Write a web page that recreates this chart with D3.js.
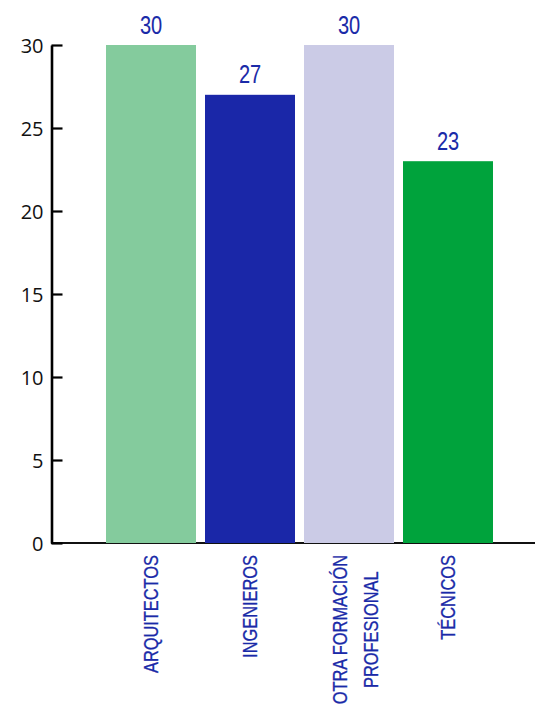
<!DOCTYPE html>
<html><head><meta charset="utf-8">
<script src="https://cdn.jsdelivr.net/npm/d3@7"></script>
<style>html,body{margin:0;padding:0;background:#fff;}</style>
</head><body>
<svg id="c" width="535" height="708"></svg>
<script>
const categories = ["ARQUITECTOS", "INGENIEROS", "OTRA FORMACIÓN\nPROFESIONAL", "TÉCNICOS"];
const values = [30, 27, 30, 23];
const colors = ["#84cb9d", "#1a27a8", "#cbcbe6", "#00a33c"];
const yTicks = [0, 5, 10, 15, 20, 25, 30];

const svg = d3.select("#c");
const x = d3.scaleBand().domain(categories).range([101.5, 497.5]).paddingInner(0.0909).paddingOuter(0.04545);
const y = d3.scaleLinear().domain([0, 30]).range([543, 45]);
const labelColor = "#1a2aa8";
const condFont = "'Liberation Sans', Arial, sans-serif";
const squeeze = 0.8;

// x axis baseline
svg.append("line").attr("x1", 51).attr("x2", 535).attr("y1", y(0)).attr("y2", y(0))
  .attr("stroke", "#111").attr("stroke-width", 2.2);

// y axis
const yAxis = d3.axisLeft(y).tickValues(yTicks).tickSize(-11).tickPadding(20).tickSizeOuter(0);
const gy = svg.append("g").attr("transform", "translate(51.5,0)").call(yAxis);
gy.select(".domain").attr("stroke", "#000").attr("stroke-width", 2.6);
gy.selectAll(".tick line").attr("stroke", "#000").attr("stroke-width", 2.2);
gy.selectAll(".tick text").attr("font-family", "'Open Sans', sans-serif").attr("font-size", 20)
  .attr("fill", "#111").attr("x", -8).attr("dy", "0.36em");

// bars
svg.selectAll("rect.bar").data(categories).join("rect").attr("class", "bar")
  .attr("x", d => x(d)).attr("width", x.bandwidth())
  .attr("y", (d, i) => y(values[i])).attr("height", (d, i) => y(0) - y(values[i]))
  .attr("fill", (d, i) => colors[i]);

// value labels
svg.selectAll("text.val").data(categories).join("text").attr("class", "val")
  .attr("transform", (d, i) => `translate(${x(d) + x.bandwidth() / 2},${y(values[i]) - 11.5}) scale(${squeeze},1)`)
  .attr("text-anchor", "middle")
  .attr("font-family", condFont)
  .attr("font-size", 25).attr("fill", labelColor)
  .attr("stroke", labelColor).attr("stroke-width", 0.1)
  .text((d, i) => values[i]);

// category labels, rotated
const lineH = 31;
categories.forEach(cat => {
  const lines = cat.split("\n");
  const n = lines.length;
  const cx = x(cat) + x.bandwidth() / 2;
  const g = svg.append("g");
  const texts = lines.map((ln, i) => {
    const bx = cx + 7 + (i - (n - 1) / 2) * lineH + (n - 1) * 6;
    return g.append("text")
      .attr("transform", `translate(${bx},555) rotate(-90) scale(${squeeze},1)`)
      .attr("font-family", condFont)
      .attr("font-size", 20.5).attr("fill", labelColor)
      .attr("stroke", labelColor).attr("stroke-width", 0.3)
      .text(ln);
  });
  const widths = texts.map(t => t.node().getComputedTextLength());
  const maxW = d3.max(widths);
  texts.forEach(t => {
    t.attr("text-anchor", "middle").attr("x", -maxW / 2);
  });
});
</script>
</body></html>
